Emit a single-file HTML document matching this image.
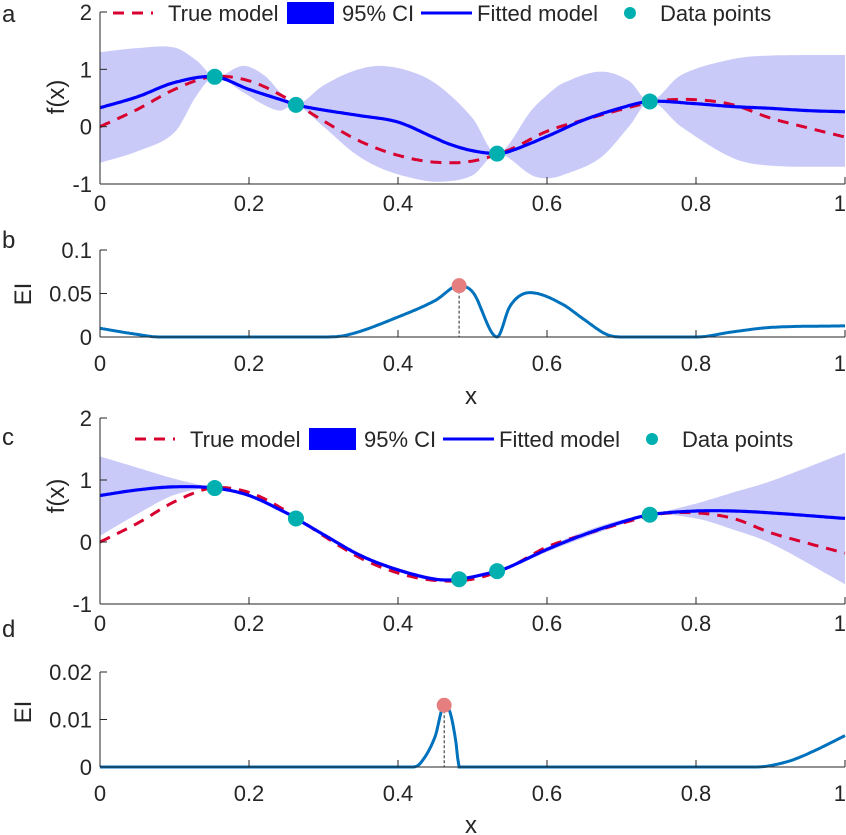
<!DOCTYPE html>
<html><head><meta charset="utf-8">
<style>
html,body{margin:0;padding:0;background:#fff;}
svg{display:block;font-family:"Liberation Sans",Arial,sans-serif;}
text{fill:#262626;}
</style></head>
<body>
<svg id="chart" width="846" height="835" viewBox="0 0 846 835" xmlns="http://www.w3.org/2000/svg"></svg>
<script>
// ---- data ----
const dataX = [0.154, 0.263, 0.533, 0.738];
const dataY = [0.87, 0.38, -0.47, 0.44];
const dataXc = [0.154, 0.263, 0.482, 0.533, 0.738];
const dataYc = [0.87, 0.38, -0.60, -0.47, 0.44];

const trueX = [0,0.05,0.1,0.15,0.2,0.25,0.3,0.35,0.4,0.45,0.5,0.55,0.6,0.65,0.7,0.75,0.8,0.85,0.9,0.95,1];
const trueY = [0,0.3,0.65,0.87,0.8,0.5,0.1,-0.26,-0.5,-0.62,-0.6,-0.4,-0.08,0.12,0.3,0.45,0.47,0.38,0.15,-0.02,-0.18];

const fitAX = [0,0.05,0.1,0.154,0.2,0.25,0.263,0.3,0.35,0.4,0.45,0.47,0.5,0.533,0.55,0.6,0.65,0.7,0.738,0.8,0.85,0.9,0.95,1];
const fitAY = [0.33,0.52,0.77,0.87,0.65,0.44,0.38,0.29,0.19,0.08,-0.2,-0.31,-0.42,-0.47,-0.43,-0.17,0.12,0.33,0.44,0.4,0.35,0.32,0.28,0.26];

const bandAX = [0,0.05,0.1,0.13,0.154,0.192,0.22,0.242,0.263,0.3,0.34,0.376,0.42,0.456,0.5,0.533,0.58,0.6,0.62,0.671,0.71,0.738,0.78,0.85,0.9,1];
const bandAUp = [1.3,1.37,1.38,1.15,0.87,1.06,0.9,0.6,0.38,0.72,0.97,1.06,0.95,0.7,0.15,-0.47,0.3,0.55,0.75,0.96,0.8,0.44,0.9,1.18,1.24,1.25];
const bandALo = [-0.63,-0.43,-0.1,0.55,0.87,0.6,0.38,0.28,0.38,0.0,-0.45,-0.72,-0.9,-0.96,-0.85,-0.47,-0.85,-0.9,-0.85,-0.55,0.0,0.44,0.0,-0.55,-0.68,-0.7];

const eiBX = [0,0.05,0.08,0.3,0.33,0.4,0.45,0.482,0.5,0.533,0.55,0.577,0.62,0.65,0.68,0.7,0.8,0.85,0.9,1];
const eiBY = [0.01,0.003,0,0,0.002,0.023,0.042,0.059,0.052,0,0.035,0.051,0.038,0.02,0.003,0,0,0.006,0.011,0.0128];
const eiBPickX = 0.482, eiBPickY = 0.059;

const fitCX = [0,0.05,0.1,0.154,0.2,0.25,0.263,0.3,0.35,0.4,0.45,0.482,0.533,0.55,0.6,0.65,0.7,0.738,0.8,0.85,0.9,1];
const fitCY = [0.75,0.84,0.89,0.87,0.75,0.47,0.38,0.12,-0.22,-0.45,-0.6,-0.6,-0.47,-0.4,-0.12,0.12,0.32,0.44,0.5,0.5,0.47,0.38];
const bandCUp = [1.38,1.2,1.02,0.87,0.77,0.49,0.38,0.14,-0.19,-0.42,-0.57,-0.6,-0.47,-0.38,-0.08,0.17,0.36,0.44,0.62,0.8,0.98,1.44];
const bandCLo = [0.1,0.45,0.76,0.87,0.73,0.45,0.38,0.1,-0.25,-0.48,-0.63,-0.6,-0.47,-0.42,-0.16,0.07,0.28,0.44,0.38,0.2,-0.02,-0.68];

const eiDX = [0,0.42,0.43,0.45,0.462,0.47,0.478,0.482,0.88,0.9,0.93,0.96,1];
const eiDY = [0,0,0.0008,0.0065,0.013,0.0115,0.005,0,0,0.0003,0.0015,0.0035,0.0066];
const eiDPickX = 0.462, eiDPickY = 0.013;

const xTicks = [0,0.2,0.4,0.6,0.8,1];
const xTickLabels = ["0","0.2","0.4","0.6","0.8","1"];
const fTicks = [-1,0,1,2];
const fTickLabels = ["-1","0","1","2"];
const eiBTicks = [0,0.05,0.1];
const eiBTickLabels = ["0","0.05","0.1"];
const eiDTicks = [0,0.01,0.02];
const eiDTickLabels = ["0","0.01","0.02"];
const legendLabels = ["True model","95% CI","Fitted model","Data points"];

// ---- helpers ----
const NS="http://www.w3.org/2000/svg";
const svg=document.getElementById('chart');
function mk(tag,attrs,parent){const e=document.createElementNS(NS,tag);for(const k in attrs)e.setAttribute(k,attrs[k]);(parent||svg).appendChild(e);return e;}
const X0=100,X1=845;
const sx=v=>X0+v*(X1-X0);
function mkY(y0,ymin,ymax,y1){return v=>y0+(v-ymin)/(ymax-ymin)*(y1-y0);}
function sample(xs,ys,n,monotone){
  const m=xs.length,d=[],s=[];
  for(let i=0;i<m-1;i++)d.push((ys[i+1]-ys[i])/(xs[i+1]-xs[i]));
  for(let i=0;i<m;i++){
    if(i===0)s.push(d[0]);else if(i===m-1)s.push(d[m-2]);
    else if(monotone)s.push(d[i-1]*d[i]<=0?0:(d[i-1]+d[i])/2);
    else s.push((ys[i+1]-ys[i-1])/(xs[i+1]-xs[i-1]));
  }
  if(monotone){for(let i=0;i<m-1;i++){if(d[i]===0){s[i]=0;s[i+1]=0;continue;}
    const a=s[i]/d[i],b=s[i+1]/d[i],h=a*a+b*b;if(h>9){const t=3/Math.sqrt(h);s[i]=t*a*d[i];s[i+1]=t*b*d[i];}}}
  const out=[];
  for(let k=0;k<=n;k++){
    const x=xs[0]+(xs[m-1]-xs[0])*k/n;let i=0;while(i<m-2&&x>xs[i+1])i++;
    const h=xs[i+1]-xs[i],t=(x-xs[i])/h,t2=t*t,t3=t2*t;
    const y=(2*t3-3*t2+1)*ys[i]+(t3-2*t2+t)*h*s[i]+(-2*t3+3*t2)*ys[i+1]+(t3-t2)*h*s[i+1];
    out.push([x,y]);
  }
  return out;
}
function pathFrom(pts,syf){return pts.map((p,i)=>(i?'L':'M')+sx(p[0]).toFixed(1)+' '+syf(p[1]).toFixed(1)).join(' ');}
function txt(s,x,y,attrs,name){const t=mk('text',Object.assign({x:x,y:y,'font-size':22},attrs||{}));t.textContent=s;
  
  
  return t;}

function axes(syf,yTicks,yLabels,yTop,yBot,xLabY,pfx){
  const g=mk('g',{});
  
  
  mk('line',{x1:X0,y1:yTop,x2:X0,y2:yBot,stroke:'#262626','stroke-width':1},g);
  mk('line',{x1:X0,y1:yBot,x2:X1,y2:yBot,stroke:'#262626','stroke-width':1},g);
  yTicks.forEach((v,i)=>{const y=syf(v);
    mk('line',{x1:X0,y1:y,x2:X0+7,y2:y,stroke:'#262626'},g);
    txt(yLabels[i],X0-8,y+8,{'text-anchor':'end'},pfx+'-y-tick-label');});
  xTicks.forEach((v,i)=>{const x=sx(v);
    mk('line',{x1:x,y1:yBot,x2:x,y2:yBot-7,stroke:'#262626'},g);
    const last=i===xTicks.length-1;
    txt(xTickLabels[i],last?x+1:x,xLabY,{'text-anchor':last?'end':'middle'},pfx+'-x-tick-label');});
}
function legend(y,dx,pfx){
  const g=mk('g',{});
  
  
  mk('line',{x1:113+dx,y1:y,x2:153+dx,y2:y,stroke:'#d7002f','stroke-width':3,'stroke-dasharray':'11 8'},g);
  txt(legendLabels[0],168+dx,y+8,{},pfx+'-legend-true');
  mk('rect',{x:287+dx,y:y-11,width:47,height:22,fill:'#0000ff'},g);
  txt(legendLabels[1],342+dx,y+8,{},pfx+'-legend-ci');
  mk('line',{x1:421+dx,y1:y,x2:472+dx,y2:y,stroke:'#0000ff','stroke-width':3},g);
  txt(legendLabels[2],477+dx,y+8,{},pfx+'-legend-fit');
  mk('circle',{cx:630+dx,cy:y,r:6,fill:'#00b0b0'},g);
  txt(legendLabels[3],660+dx,y+8,{},pfx+'-legend-data');
}
function band(xs,up,lo,syf,name){
  const u=sample(xs,up,400,false),l=sample(xs,lo,400,false).reverse();
  const d=pathFrom(u,syf)+' '+pathFrom(l,syf).replace('M','L')+' Z';
  const p=mk('path',{d:d,fill:'#cacaf9',stroke:'none'});
  
  
}
function line(xs,ys,syf,attrs,name,mono){
  const p=mk('path',Object.assign({d:pathFrom(sample(xs,ys,500,mono),syf),fill:'none'},attrs));
  
  
}
function dots(xs,ys,syf,name){
  xs.forEach((x,i)=>{const c=mk('circle',{cx:sx(x),cy:syf(ys[i]),r:8,fill:'#00b0b0'});
    
    });
}

// ---- panel a ----
const syA=mkY(12,2,-1,184);
band(bandAX,bandAUp,bandALo,syA,'a-ci-band');
line(trueX,trueY,syA,{stroke:'#d7002f','stroke-width':3,'stroke-dasharray':'11 8'},'a-true-model',false);
line(fitAX,fitAY,syA,{stroke:'#0000ff','stroke-width':3.2},'a-fitted-model',false);
dots(dataX,dataY,syA,'a-data-point');
axes(syA,fTicks,fTickLabels,12,184,211,'a');
legend(13,0,'a');
txt('f(x)',0,0,{transform:'translate(64 97) rotate(-90)','text-anchor':'middle','font-size':24},'a-y-axis-title');
txt('a',2,22,{'font-size':24},'panel-label-a');

// ---- panel b ----
const syB=mkY(250,0.1,0,337);
line(eiBX,eiBY,syB,{stroke:'#0072bd','stroke-width':3},'b-ei-curve',true);
mk('line',{x1:sx(eiBPickX),y1:syB(eiBPickY),x2:sx(eiBPickX),y2:337,stroke:'#262626','stroke-width':1,'stroke-dasharray':'3 2'});
{const c=mk('circle',{cx:sx(eiBPickX),cy:syB(eiBPickY),r:7.5,fill:'#e57e7e'});

}
axes(syB,eiBTicks,eiBTickLabels,250,337,371,'b');
txt('EI',0,0,{transform:'translate(31 294) rotate(-90)','text-anchor':'middle','font-size':24},'b-y-axis-title');
txt('x',471,404,{'text-anchor':'middle','font-size':24},'b-x-axis-title');
txt('b',2,248,{'font-size':24},'panel-label-b');

// ---- panel c ----
const syC=mkY(418,2,-1,604);
band(fitCX,bandCUp,bandCLo,syC,'c-ci-band');
line(trueX,trueY,syC,{stroke:'#d7002f','stroke-width':3,'stroke-dasharray':'11 8'},'c-true-model',false);
line(fitCX,fitCY,syC,{stroke:'#0000ff','stroke-width':3.2},'c-fitted-model',false);
dots(dataXc,dataYc,syC,'c-data-point');
axes(syC,fTicks,fTickLabels,418,604,631,'c');
legend(439,22,'c');
txt('f(x)',0,0,{transform:'translate(64 496) rotate(-90)','text-anchor':'middle','font-size':24},'c-y-axis-title');
txt('c',2,445,{'font-size':24},'panel-label-c');

// ---- panel d ----
const syD=mkY(672,0.02,0,767);
line(eiDX,eiDY,syD,{stroke:'#0072bd','stroke-width':3},'d-ei-curve',true);
mk('line',{x1:sx(eiDPickX),y1:syD(eiDPickY),x2:sx(eiDPickX),y2:767,stroke:'#262626','stroke-width':1,'stroke-dasharray':'3 2'});
{const c=mk('circle',{cx:sx(eiDPickX),cy:syD(eiDPickY),r:7.5,fill:'#e57e7e'});

}
axes(syD,eiDTicks,eiDTickLabels,672,767,801,'d');
txt('EI',0,0,{transform:'translate(31 712) rotate(-90)','text-anchor':'middle','font-size':24},'d-y-axis-title');
txt('x',471,833,{'text-anchor':'middle','font-size':24},'d-x-axis-title');
txt('d',2,637,{'font-size':24},'panel-label-d');
</script>
</body></html>
